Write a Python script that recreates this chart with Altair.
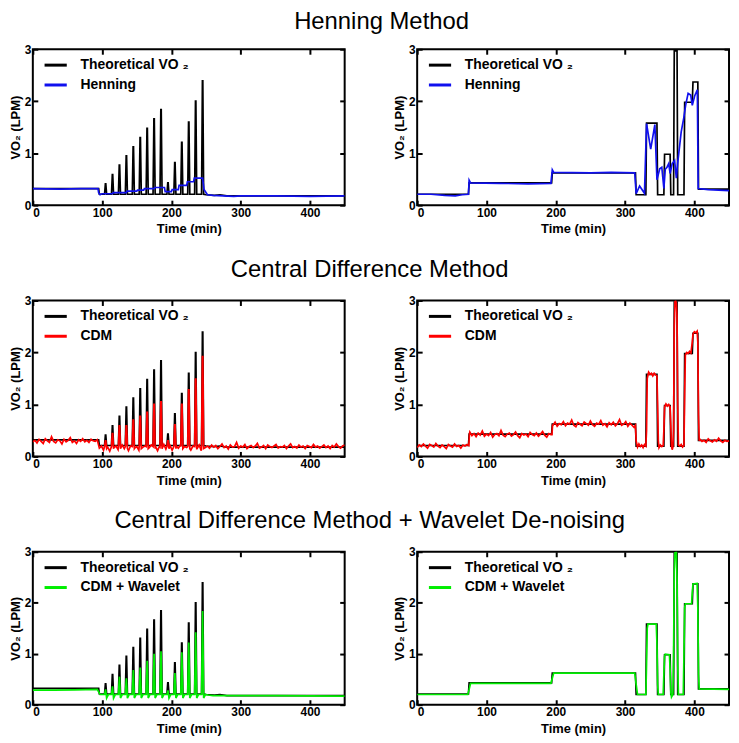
import altair as alt
import pandas as pd

THEO = "Theoretical VO \u2082"
FONT = "Liberation Sans"

# ---------------- Protocol 1 (left column) ----------------
spike_t = [105, 115, 125, 135, 145, 155, 165, 175, 185, 195, 205, 215, 225, 235, 245]
theo1_peak = [0.41, 0.59, 0.77, 0.95, 1.12, 1.30, 1.48, 1.66, 1.84, 0.43, 0.82, 1.21, 1.60, 2.00, 2.39]
theo1_head_t = [0, 95, 96]
theo1_head_v = [0.32, 0.32, 0.21]
theo1_base = 0.21
theo1_tail_t = [250, 262, 270, 280, 350, 450]
theo1_tail_v = [0.20, 0.19, 0.20, 0.18, 0.18, 0.18]

hen1_t = [0, 40, 70, 94, 95, 97, 100, 115, 116, 135, 136, 150, 151, 160, 161, 175, 176, 190, 191, 200,
          201, 210, 211, 222, 223, 232, 233, 245, 247, 252, 260, 290, 300, 350, 400, 450]
hen1_v = [0.32, 0.31, 0.32, 0.32, 0.24, 0.20, 0.22, 0.22, 0.24, 0.24, 0.27, 0.27, 0.29, 0.29, 0.32, 0.32,
          0.34, 0.34, 0.26, 0.26, 0.30, 0.30, 0.38, 0.38, 0.45, 0.45, 0.52, 0.52, 0.30, 0.20, 0.19, 0.17,
          0.18, 0.18, 0.17, 0.18]

cdm1_peak = [0.30, 0.44, 0.59, 0.59, 0.70, 0.77, 0.85, 1.00, 1.05, 0.30, 0.61, 1.00, 1.28, 1.49, 1.92]
cdm1_spike_pre = 0.19
cdm1_spike_post = 0.15
cdm1_a = [0.28, 0.31, 0.26, 0.33, 0.29, 0.25, 0.34, 0.30, 0.27, 0.38, 0.29, 0.26, 0.32, 0.30, 0.24, 0.33,
          0.28, 0.31, 0.36, 0.27, 0.30, 0.25, 0.32, 0.29, 0.34, 0.28, 0.31, 0.27, 0.33, 0.30, 0.29, 0.32]
cdm1_b = [0.16, 0.20, 0.12, 0.22, 0.18, 0.10, 0.21, 0.17, 0.20, 0.13, 0.19, 0.22, 0.15, 0.18, 0.11, 0.20,
          0.23, 0.16, 0.19, 0.12, 0.21, 0.18, 0.20, 0.14, 0.17, 0.22, 0.15, 0.19, 0.11, 0.20, 0.18, 0.23,
          0.14, 0.19, 0.21, 0.12, 0.18, 0.20, 0.16, 0.22, 0.13, 0.19, 0.17, 0.21, 0.12, 0.20, 0.18, 0.15,
          0.22, 0.11, 0.19, 0.17]
cdm1_c = [0.20, 0.16, 0.22, 0.18, 0.21, 0.15, 0.19, 0.24, 0.17, 0.20, 0.14, 0.22, 0.18, 0.19, 0.27, 0.16,
          0.20, 0.18, 0.23, 0.15, 0.19, 0.21, 0.17, 0.20, 0.25, 0.16, 0.18, 0.21, 0.15, 0.22, 0.19, 0.17,
          0.20, 0.23, 0.16, 0.19, 0.18, 0.21, 0.15, 0.20, 0.24, 0.17, 0.19, 0.16, 0.22, 0.18, 0.20, 0.15,
          0.21, 0.19, 0.17, 0.23, 0.18, 0.20, 0.16, 0.19, 0.22, 0.17, 0.20, 0.15, 0.21, 0.18, 0.24, 0.19,
          0.16, 0.20, 0.22]

wav1_peak = [0.30, 0.36, 0.55, 0.52, 0.68, 0.73, 0.86, 1.00, 1.05, 0.28, 0.62, 1.03, 1.22, 1.42, 1.84]
wav1_head_t = [0, 30, 60, 93, 95, 97]
wav1_head_v = [0.285, 0.285, 0.29, 0.30, 0.25, 0.20]
wav1_spike_pre = 0.20
wav1_spike_post = 0.13
wav1_tail_t = [249, 253, 260, 350, 450]
wav1_tail_v = [0.20, 0.19, 0.18, 0.18, 0.17]

# ---------------- Protocol 2 (right column) ----------------
theo2_t = [0, 74, 75, 194, 195, 315, 316, 330, 331, 346, 347, 356, 357, 365, 366, 370, 371, 375, 376,
           385, 386, 397, 398, 405, 406, 450]
theo2_v = [0.21, 0.21, 0.43, 0.43, 0.62, 0.62, 0.20, 0.20, 1.58, 1.58, 0.20, 0.20, 0.98, 0.98, 0.20,
           0.20, 2.97, 2.97, 0.20, 0.20, 1.98, 1.98, 2.37, 2.37, 0.31, 0.31]

hen2_t = [0, 20, 40, 55, 65, 74, 75, 77, 120, 160, 193, 195, 197, 250, 280, 314, 316, 321, 328, 331,
          337, 343, 346, 350, 353, 356, 358, 360.5, 363, 365, 368, 371.5, 374, 376, 381, 384.6, 387.5,
          391, 394.7, 397, 400.4, 404.3, 405.5, 420, 450]
hen2_v = [0.21, 0.21, 0.19, 0.18, 0.20, 0.21, 0.48, 0.43, 0.42, 0.41, 0.42, 0.68, 0.63, 0.62, 0.63, 0.62,
          0.22, 0.37, 0.23, 1.57, 1.08, 1.55, 0.49, 0.70, 0.73, 0.32, 0.69, 0.73, 0.80, 0.61, 0.80, 0.86,
          0.52, 0.82, 1.41, 1.67, 1.93, 2.15, 2.12, 1.92, 2.10, 2.22, 0.32, 0.30, 0.28]

cdm2_s1 = [0.17, 0.22, 0.19, 0.24, 0.20, 0.16, 0.23, 0.21, 0.18, 0.25, 0.20, 0.17, 0.22, 0.19, 0.15,
           0.23, 0.20, 0.18, 0.24, 0.19, 0.21, 0.16, 0.22, 0.20, 0.23]
cdm2_s2 = [0.47, 0.40, 0.44, 0.38, 0.45, 0.41, 0.49, 0.39, 0.43, 0.40, 0.46, 0.37, 0.42, 0.44, 0.40,
           0.50, 0.41, 0.38, 0.43, 0.45, 0.39, 0.42, 0.47, 0.40, 0.36, 0.44, 0.41, 0.43, 0.38, 0.46,
           0.42, 0.40, 0.45, 0.39, 0.43, 0.48, 0.41, 0.37, 0.44, 0.42]
cdm2_s3 = [0.60, 0.66, 0.58, 0.63, 0.61, 0.67, 0.59, 0.64, 0.62, 0.70, 0.60, 0.57, 0.65, 0.62, 0.59,
           0.66, 0.63, 0.60, 0.68, 0.61, 0.58, 0.64, 0.62, 0.69, 0.60, 0.63, 0.57, 0.65, 0.61, 0.66,
           0.59, 0.63, 0.71, 0.60, 0.62, 0.67, 0.58, 0.64, 0.60, 0.56]
cdm2_s4 = [0.33, 0.29, 0.31, 0.27, 0.34, 0.30, 0.28, 0.32, 0.29, 0.35, 0.30, 0.27, 0.31, 0.29, 0.30]
cdm2_x_t = [74.5, 75.5, 194.5, 195.5, 315, 316, 318, 320, 322, 324, 326, 328, 330, 331, 332, 334, 336,
            338, 340, 342, 344, 346, 347, 348, 349, 351, 353, 355, 356, 357, 359, 361, 363, 365, 366,
            367, 368, 369, 370, 371, 372, 373, 374, 375, 376, 377, 379, 381, 383, 385, 386, 387, 389,
            391, 393, 395, 397, 398, 400, 402, 404, 405, 406, 407]
cdm2_x_v = [0.21, 0.44, 0.42, 0.62, 0.60, 0.30, 0.18, 0.24, 0.19, 0.22, 0.17, 0.23, 0.20, 0.50, 1.50,
            1.62, 1.58, 1.60, 1.55, 1.60, 1.57, 1.55, 1.00, 0.30, 0.17, 0.22, 0.19, 0.21, 0.50, 0.95,
            1.01, 0.97, 1.00, 0.95, 0.60, 0.20, 0.13, 0.18, 0.50, 2.50, 2.98, 3.00, 2.95, 2.70, 1.00,
            0.22, 0.20, 0.23, 0.18, 0.21, 1.20, 1.95, 2.00, 1.98, 2.02, 1.99, 2.20, 2.35, 2.40, 2.38,
            2.41, 2.20, 0.80, 0.30]

wav2_t = [0, 73, 75, 77, 193, 195, 197, 314, 316, 318, 330, 331, 332, 333, 345, 346, 347, 348, 355, 356,
          357, 358, 364, 365, 366, 367, 369, 370, 371, 372, 374, 375, 376, 377, 384, 385, 386, 387, 396,
          397, 398, 404, 405, 406, 407, 450]
wav2_v = [0.20, 0.20, 0.30, 0.42, 0.42, 0.52, 0.62, 0.62, 0.40, 0.20, 0.20, 0.80, 1.50, 1.58, 1.58, 1.20,
          0.40, 0.20, 0.20, 0.60, 0.95, 0.99, 0.98, 0.70, 0.25, 0.15, 0.20, 1.00, 2.60, 2.98, 3.00, 2.50,
          0.80, 0.20, 0.20, 1.00, 1.90, 1.98, 1.98, 2.20, 2.37, 2.38, 1.90, 0.60, 0.31, 0.30]


# ---------------- table builders ----------------
def grid(start, step, vals):
    return [(start + step * i, v) for i, v in enumerate(vals)]


def frame(pairs, name):
    pairs = sorted(pairs, key=lambda p: p[0])
    return pd.DataFrame({"t": [p[0] for p in pairs], "v": [p[1] for p in pairs],
                         "i": list(range(len(pairs))), "series": name})


def theo1_pairs():
    pts = list(zip(theo1_head_t, theo1_head_v))
    for c, p in zip(spike_t, theo1_peak):
        pts += [(c - 1.5, theo1_base), (c - 0.3, p), (c + 0.3, p), (c + 1.5, theo1_base)]
    pts += list(zip(theo1_tail_t, theo1_tail_v))
    return pts


def cdm1_pairs():
    base = grid(0, 3, cdm1_a) + grid(96, 3, cdm1_b) + grid(252, 3, cdm1_c)
    base = [(t, v) for t, v in base if all(abs(t - c) > 1.6 for c in spike_t)]
    for c, p in zip(spike_t, cdm1_peak):
        base += [(c - 1.5, cdm1_spike_pre), (c - 0.3, p), (c + 0.3, p), (c + 1.5, cdm1_spike_post)]
    return base


def wav1_pairs():
    pts = list(zip(wav1_head_t, wav1_head_v))
    for c, p in zip(spike_t, wav1_peak):
        pts += [(c - 1.5, wav1_spike_pre), (c, p), (c + 1.5, wav1_spike_post), (c + 4, wav1_spike_pre)]
    pts += list(zip(wav1_tail_t, wav1_tail_v))
    return pts


def cdm2_pairs():
    return (grid(0, 3, cdm2_s1) + grid(76, 3, cdm2_s2) + grid(196, 3, cdm2_s3)
            + list(zip(cdm2_x_t, cdm2_x_v)) + grid(408, 3, cdm2_s4))


# ---------------- panel ----------------
AX = dict(labelFont=FONT, labelFontWeight="bold", labelFontSize=12, labelColor="black",
          tickColor="black", tickWidth=2, tickSize=5, offset=-5, domain=False, grid=False,
          titleFont=FONT, titleFontWeight="bold", titleFontSize=13, titleColor="black")


def panel(theo_pairs, est_pairs, est_name, est_color, w, h):
    theo_df = frame(theo_pairs, THEO)
    est_df = frame(est_pairs, est_name)
    color = alt.Color("series:N",
                      scale=alt.Scale(domain=[THEO, est_name], range=["#000000", est_color]),
                      legend=alt.Legend(title=None, orient="none", legendX=10, legendY=3,
                                        symbolType="stroke", symbolSize=500, symbolStrokeWidth=3,
                                        labelFont=FONT, labelFontWeight="bold", labelFontSize=14,
                                        labelColor="black", labelOffset=12, padding=0, rowPadding=0))
    xs = alt.Scale(domain=[0, 450], nice=False)
    ys = alt.Scale(domain=[0, 3], nice=False)
    l1 = alt.Chart(theo_df).mark_line(strokeWidth=1.7, clip=True).encode(
        x=alt.X("t:Q", scale=xs, axis=alt.Axis(orient="bottom", values=[0, 100, 200, 300, 400],
                                                title="Time (min)", labelPadding=2, titlePadding=5,
                                                **AX)),
        y=alt.Y("v:Q", scale=ys, axis=alt.Axis(orient="left", values=[0, 1, 2, 3], title="VO\u2082 (LPM)",
                                                labelPadding=2, titlePadding=2, **AX)),
        color=color, order=alt.Order("i:Q"))
    l2 = alt.Chart(est_df).mark_line(strokeWidth=1.7, clip=True).encode(
        x=alt.X("t:Q", scale=xs, axis=alt.Axis(orient="top", values=[0, 100, 200, 300, 400],
                                                title=None, labels=False, **AX)),
        y=alt.Y("v:Q", scale=ys, axis=alt.Axis(orient="right", values=[0, 1, 2, 3], title=None,
                                                labels=False, **AX)),
        color=color, order=alt.Order("i:Q"))
    return alt.layer(l1, l2).resolve_axis(x="independent", y="independent").properties(width=w, height=h)


def row(title, left, right, dx=0, offset=12):
    return alt.hconcat(left, right, spacing=46).resolve_scale(color="independent").properties(
        title=alt.TitleParams(title, fontSize=24, font=FONT, fontWeight="normal", anchor="middle",
                              offset=offset, color="black", dx=dx))


W = 314
r1 = row("Henning Method",
         panel(theo1_pairs(), list(zip(hen1_t, hen1_v)), "Henning", "#1010ee", W, 157),
         panel(list(zip(theo2_t, theo2_v)), list(zip(hen2_t, hen2_v)), "Henning", "#1010ee", W, 157),
         dx=12, offset=8)
r2 = row("Central Difference Method",
         panel(theo1_pairs(), cdm1_pairs(), "CDM", "#ff0000", W, 157),
         panel(list(zip(theo2_t, theo2_v)), cdm2_pairs(), "CDM", "#ff0000", W, 157))
r3 = row("Central Difference Method + Wavelet De-noising",
         panel(theo1_pairs(), wav1_pairs(), "CDM + Wavelet", "#00ee00", W, 154),
         panel(list(zip(theo2_t, theo2_v)), list(zip(wav2_t, wav2_v)), "CDM + Wavelet", "#00ee00", W, 154))

chart = alt.vconcat(r1, r2, r3, spacing=21).resolve_scale(color="independent").properties(
    padding={"left": 0, "top": 0, "right": 0, "bottom": 0}, background="white"
).configure_view(stroke="black", strokeWidth=2)

chart.save("out.html", embed_options={"renderer": "svg", "actions": False})
